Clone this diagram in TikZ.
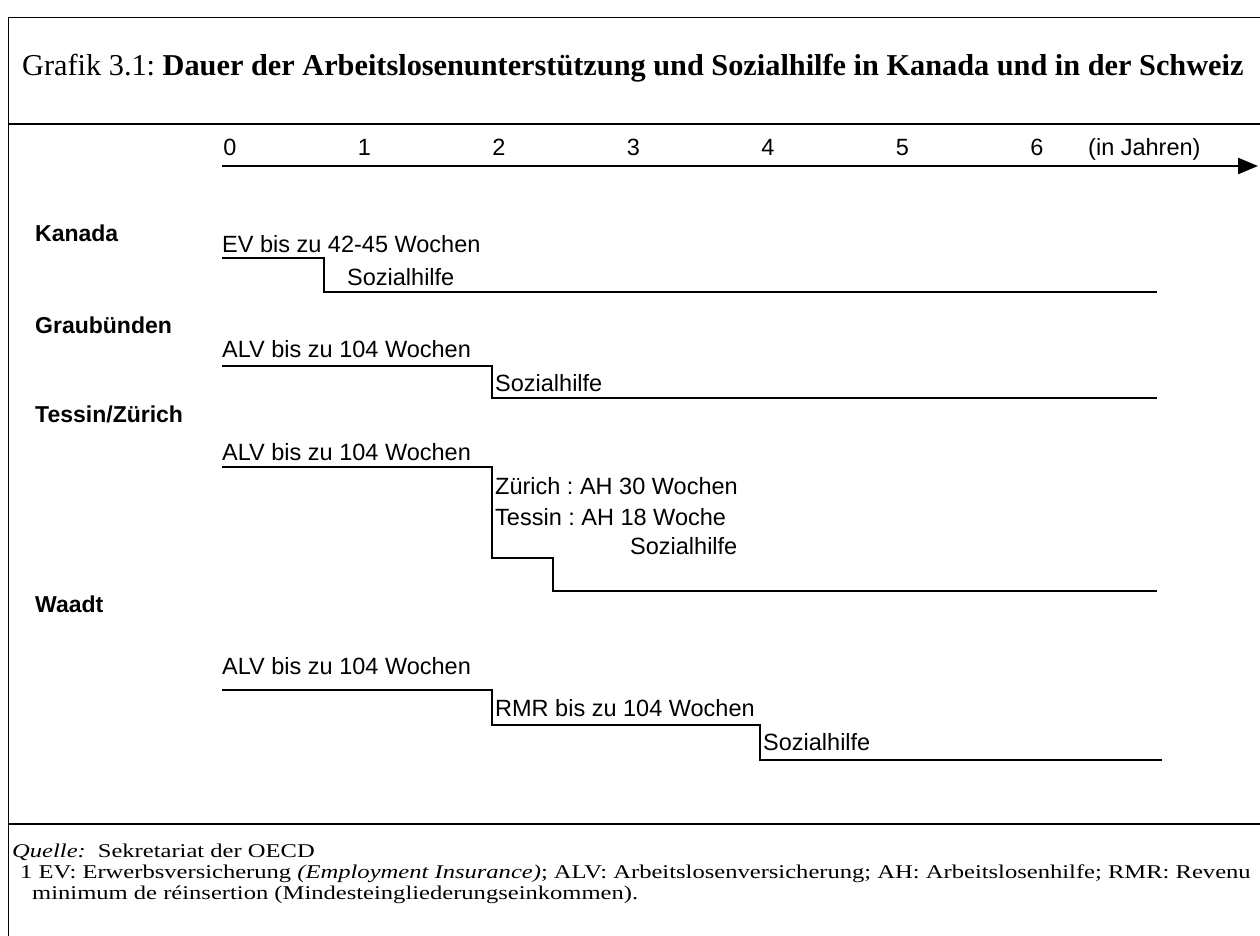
\documentclass[tikz,border=0pt]{standalone}
\usepackage{fontspec}
\setmainfont{Liberation Serif}
\setsansfont{Liberation Sans}
\newfontfamily\notefont[FakeStretch=1.26]{Liberation Serif}
\usetikzlibrary{arrows.meta}
\frenchspacing
\begin{document}
\begin{tikzpicture}
  [
    x=1pt,y=-1pt,
    txt/.style={
      font=\sffamily\fontsize{23.5}{27}\selectfont,
      inner sep=0pt,
      anchor=base west
    },
    tick/.style={
      txt,
      anchor=base
    },
    land/.style={
      txt,
      font=\sffamily\bfseries\fontsize{23}{27}\selectfont
    },
    stair/.style={
      line width=2pt
    },
    rule/.style={
      line width=2.4pt
    },
    note/.style={
      font=\notefont\fontsize{19.5}{22}\selectfont,
      inner sep=0pt,
      anchor=base west
    }
  ]

  \useasboundingbox (0,0) rectangle (1260,936);
  \draw [line width=1pt] (8,936) -- (8,18) -- (1260,18);

  \node [note,font=\rmfamily\fontsize{30.3}{34}\selectfont] (title) at (22,76)
    {Grafik 3.1: \textbf{Dauer der Arbeitslosenunterst\"utzung und Sozialhilfe in Kanada und in der Schweiz}};
  \draw [rule] (8,124) -- (1260,124);

  \draw [rule,-{Triangle[length=20pt,width=16pt]}] (222,166) -- (1258,166);
  \foreach \n in {0,...,6} {
      \node [tick] (t\n) at (230+134.5*\n,156) {\n};
  }
  \node [txt] (unit) at (1088,156) {(in Jahren)};

  \node [land] (kanada) at (35,241) {Kanada};
  \node [txt] (ev) at (222,252) {EV bis zu 42-45 Wochen};
  \node [txt] (kso) at (347,285) {Sozialhilfe};
  \draw [stair] (222,258) -- (324,258) -- (324,292) -- (1157,292);

  \node [land] (graub) at (35,333) {Graub\"unden};
  \node [txt] (galv) at (222,357) {ALV bis zu 104 Wochen};
  \node [txt] (gso) at (495,391) {Sozialhilfe};
  \draw [stair] (222,366) -- (492,366) -- (492,398) -- (1157,398);

  \node [land] (tezh) at (35,422) {Tessin/Z\"urich};
  \node [txt] (talv) at (222,460) {ALV bis zu 104 Wochen};
  \node [txt] (zah) at (495,494) {Z\"urich : AH 30 Wochen};
  \node [txt] (tah) at (495,525) {Tessin : AH 18 Woche};
  \node [txt] (tso) at (630,554) {Sozialhilfe};
  \draw [stair] (222,467) -- (492,467) -- (492,558) -- (553,558) -- (553,591) -- (1157,591);

  \node [land] (waadt) at (35,612) {Waadt};
  \node [txt] (walv) at (222,674) {ALV bis zu 104 Wochen};
  \node [txt] (rmr) at (495,716) {RMR bis zu 104 Wochen};
  \node [txt] (wso) at (763,750) {Sozialhilfe};
  \draw [stair] (222,690) -- (492,690) -- (492,725) -- (760,725) -- (760,760) -- (1162,760);

  \draw [rule] (8,824) -- (1260,824);
  \node [note] (quelle) at (12,857) {\textit{Quelle:}\hspace{12pt}Sekretariat der OECD};
  \node [note] (fn1) at (20,878)
    {1 EV: Erwerbsversicherung \textit{(Employment Insurance)}; ALV: Arbeitslosenversicherung; AH: Arbeitslosenhilfe; RMR: Revenu};
  \node [note] (fn2) at (32,899) {minimum de r\'einsertion (Mindesteingliederungseinkommen).};

\end{tikzpicture}
\end{document}
